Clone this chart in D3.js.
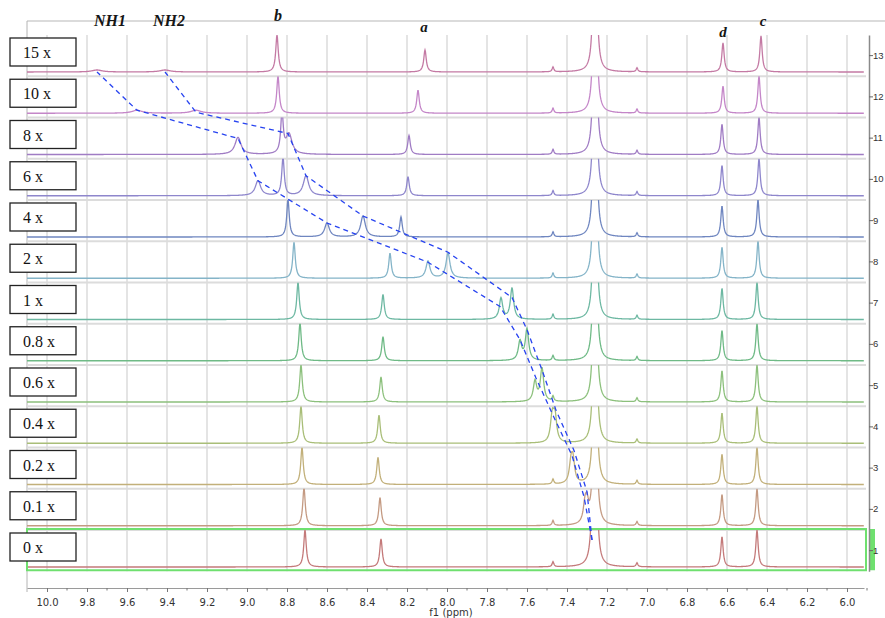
<!DOCTYPE html>
<html>
<head>
<meta charset="utf-8">
<script src="https://cdn.jsdelivr.net/npm/d3@7"></script>
<style>
  body { margin: 0; background: #fff; }
  svg { display: block; }
</style>
</head>
<body>
<div id="chart"></div>
<script>

// titration steps, row 1 (bottom) to row 13 (top)
var rowIds = [1, 2, 3, 4, 5, 6, 7, 8, 9, 10, 11, 12, 13];
var rowLabels = ["0 x", "0.1 x", "0.2 x", "0.4 x", "0.6 x", "0.8 x", "1 x", "2 x", "4 x", "6 x", "8 x", "10 x", "15 x"];
var rowColors = ["#c47a7a", "#c49a82", "#c2b07a", "#a9be78", "#8cc07c", "#6fba86", "#6db8a2", "#84b4c8",
                 "#6f86c0", "#8e86cc", "#a07cc4", "#c486c8", "#c47aa4"];

// proton b
var bPpm    = [8.71, 8.715, 8.725, 8.73, 8.73, 8.735, 8.745, 8.765, 8.795, 8.82, 8.825, 8.845, 8.85];
var bHeight = [37, 38, 37, 37, 37, 38, 37, 36, 37, 38, 40, 37, 37];
// proton a
var aPpm    = [8.33, 8.335, 8.345, 8.34, 8.33, 8.32, 8.32, 8.285, 8.23, 8.195, 8.19, 8.145, 8.11];
var aHeight = [28, 28, 27, 28, 25, 24, 25, 25, 20, 19, 19, 23, 22];
// NH1 / NH2
var nh1Ppm    = [7.275, 7.31, 7.38, 7.475, 7.56, 7.635, 7.73, 8.095, 8.60, 8.945, 9.045, 9.55, 9.75];
var nh1Height = [12, 17, 19, 22, 20, 19, 21, 17, 14, 15, 17, 3, 2];
var nh2Ppm    = [7.27, 7.30, 7.37, 7.46, 7.525, 7.60, 7.675, 7.995, 8.42, 8.705, 8.79, 9.255, 9.41];
var nh2Height = [12, 17, 21, 26, 33, 31, 31, 25, 21, 20, 20, 3, 2];
var nhWidth   = [0.01, 0.01, 0.01, 0.01, 0.01, 0.01, 0.01, 0.012, 0.014, 0.016, 0.018, 0.03, 0.03];
// protons d and c
var dPpm    = [6.625, 6.625, 6.625, 6.625, 6.625, 6.625, 6.625, 6.625, 6.625, 6.625, 6.625, 6.62, 6.62];
var dHeight = [30, 31, 30, 30, 31, 30, 31, 31, 31, 30, 30, 27, 29];
var cPpm    = [6.45, 6.45, 6.45, 6.45, 6.45, 6.45, 6.45, 6.445, 6.445, 6.44, 6.44, 6.44, 6.43];
var cHeight = [37, 37, 37, 37, 37, 37, 37, 37, 37, 37, 37, 37, 36];
// residual CHCl3 and two small lines
var solventPpm = 7.26, solventHeight = 500;
var minorPpm = [7.47, 7.05];
var minorHeight = [5, 4];

// hand-drawn dashed tracks, [ppm, height above baseline] per row
var nh1Track = [[7.275, 27], [7.315, 29], [7.375, 29], [7.47, 28], [7.555, 24], [7.635, 21], [7.735, 13],
                [8.095, 16], [8.60, 14], [8.945, 15], [9.045, 16], [9.55, 3], [9.75, 0]];
var nh2Track = [[7.275, 27], [7.30, 34], [7.365, 34], [7.455, 33], [7.525, 32], [7.60, 31], [7.675, 22],
                [7.995, 26], [8.42, 21], [8.705, 20], [8.795, 21], [9.255, 1], [9.41, 0]];

var topLabels = [
  {text: "NH1", ppm: 9.685, y: 26, size: 16},
  {text: "NH2", ppm: 9.39, y: 26, size: 16},
  {text: "b", ppm: 8.845, y: 21, size: 16},
  {text: "a", ppm: 8.115, y: 32, size: 15},
  {text: "d", ppm: 6.62, y: 37, size: 15},
  {text: "c", ppm: 6.42, y: 26, size: 15}
];

var width = 885, height = 618;
var plotTop = 35, plotBottom = 571.25;
var rowInner = 37;

var svg = d3.select("#chart").append("svg")
    .attr("width", width)
    .attr("height", height);

var x = d3.scaleLinear().domain([10.1, 5.915]).range([27, 864]);
var y = d3.scaleBand().domain(rowIds.slice().reverse()).range([plotTop, plotBottom]);
var h = d3.scaleLinear().domain([0, rowInner]).range([rowInner, 0]);

function baseline(row) { return y(row) + rowInner; }

// frame lines
svg.append("line")
    .attr("x1", 27).attr("x2", 885).attr("y1", 21).attr("y2", 21)
    .style("stroke", "#cfcfcf").style("stroke-width", 1.5);
svg.append("line")
    .attr("x1", 27).attr("x2", 27).attr("y1", 21).attr("y2", 592)
    .style("stroke", "#b4b4b4").style("stroke-width", 1);

// vertical grid
svg.append("g").selectAll("line")
    .data(d3.range(0, 21).map(function (i) { return 10 - i * 0.2; }))
    .enter().append("line")
    .attr("x1", function (d) { return x(d); })
    .attr("x2", function (d) { return x(d); })
    .attr("y1", plotTop).attr("y2", plotBottom)
    .style("stroke", "#dedede").style("stroke-width", 1.6);

// row separators
svg.append("g").selectAll("line")
    .data(rowIds.filter(function (r) { return r > 1; }))
    .enter().append("line")
    .attr("x1", 27).attr("x2", 866)
    .attr("y1", function (r) { return y(r) + y.bandwidth(); })
    .attr("y2", function (r) { return y(r) + y.bandwidth(); })
    .style("stroke", "#dcdcdc").style("stroke-width", 2);

// spectra
function peaksFor(i) {
  var list = [
    {p: bPpm[i], h: bHeight[i], g: 0.0075},
    {p: aPpm[i], h: aHeight[i], g: 0.0075},
    {p: nh1Ppm[i], h: nh1Height[i], g: nhWidth[i]},
    {p: nh2Ppm[i], h: nh2Height[i], g: nhWidth[i]},
    {p: dPpm[i], h: dHeight[i], g: 0.007},
    {p: cPpm[i], h: cHeight[i], g: 0.007},
    {p: solventPpm, h: solventHeight, g: 0.005}
  ];
  minorPpm.forEach(function (p, k) { list.push({p: p, h: minorHeight[k], g: 0.005}); });
  return list;
}

var grid = d3.range(10.1, 5.914, -0.002);
var defs = svg.append("defs");

rowIds.forEach(function (row, i) {
  defs.append("clipPath").attr("id", "clip" + row)
    .append("rect")
    .attr("x", 27).attr("y", y(row))
    .attr("width", 839).attr("height", y.bandwidth());

  var peaks = peaksFor(i);
  var pts = grid.map(function (p) {
    var v = 0;
    peaks.forEach(function (pk) {
      var dd = p - pk.p;
      v += pk.h * pk.g * pk.g / (pk.g * pk.g + dd * dd);
    });
    return [p, v];
  });

  var line = d3.line()
      .x(function (d) { return x(d[0]); })
      .y(function (d) { return y(row) + h(d[1]); });

  svg.append("path")
      .datum(pts)
      .attr("clip-path", "url(#clip" + row + ")")
      .attr("d", line)
      .style("fill", "none")
      .style("stroke", rowColors[i])
      .style("stroke-width", 1.3);
});

// selected row highlight
svg.append("rect")
    .attr("x", 27).attr("y", y(1) - 1)
    .attr("width", 839).attr("height", y.bandwidth())
    .style("fill", "none").style("stroke", "#6fe06f").style("stroke-width", 2);
svg.append("rect")
    .attr("x", 870).attr("y", y(1) - 1)
    .attr("width", 5).attr("height", y.bandwidth())
    .style("fill", "#6fe06f");

// right axis (spectrum number)
var rightAxis = svg.append("g")
    .attr("transform", "translate(869,0)")
    .call(d3.axisRight(y).tickSize(4).tickSizeOuter(0));
rightAxis.select(".domain").style("stroke", "#8a8a8a").style("stroke-width", 1.5);
rightAxis.selectAll(".tick line").style("stroke", "#666");
rightAxis.selectAll("text")
    .attr("x", 4)
    .style("font-family", "Liberation Sans, sans-serif")
    .style("font-size", "9.5px")
    .style("fill", "#333");

// bottom axis
var bottom = svg.append("g").attr("transform", "translate(0,588)");
bottom.call(d3.axisBottom(x)
    .tickValues(d3.range(0, 21).map(function (i) { return 10 - i * 0.2; }))
    .tickFormat(d3.format(".1f"))
    .tickSize(4).tickSizeOuter(0));
bottom.select(".domain").style("stroke", "#9a9a9a");
bottom.selectAll(".tick line").style("stroke", "#777");
bottom.selectAll("text")
    .attr("y", 11)
    .style("font-family", "DejaVu Sans, sans-serif")
    .style("font-size", "10px")
    .style("fill", "#333");
bottom.append("g").selectAll("line")
    .data(d3.range(0, 21).map(function (i) { return 9.9 - i * 0.2; }))
    .enter().append("line")
    .attr("x1", function (d) { return x(d); })
    .attr("x2", function (d) { return x(d); })
    .attr("y1", 0).attr("y2", 2.5)
    .style("stroke", "#777");
svg.append("text")
    .attr("x", 451).attr("y", 616)
    .style("text-anchor", "middle")
    .style("font-family", "DejaVu Sans, sans-serif")
    .style("font-size", "10px")
    .style("fill", "#333")
    .text("f1 (ppm)");

// dashed NH tracks
var trackLine = d3.line()
    .x(function (d) { return x(d[0]); })
    .y(function (d) { return baseline(d[2]) - d[1]; });

[nh1Track, nh2Track].forEach(function (track) {
  var pts = track.map(function (d, i) { return [d[0], d[1], rowIds[i]]; });
  svg.append("path")
      .datum(pts)
      .attr("d", trackLine)
      .style("fill", "none")
      .style("stroke", "#2743f0")
      .style("stroke-width", 1.3)
      .style("stroke-dasharray", "5,4");
});

// row label boxes
var boxes = svg.append("g").selectAll("g")
    .data(rowIds)
    .enter().append("g")
    .attr("transform", function (r) { return "translate(10," + (y(r) + 3) + ")"; });
boxes.append("rect")
    .attr("width", 66).attr("height", 28)
    .style("fill", "#fff").style("stroke", "#222").style("stroke-width", 1.3);
boxes.append("text")
    .attr("x", 13).attr("y", 20)
    .style("font-family", "Liberation Serif, serif")
    .style("font-size", "16px")
    .style("fill", "#111")
    .text(function (r, i) { return rowLabels[i]; });

// peak labels
svg.append("g").selectAll("text")
    .data(topLabels)
    .enter().append("text")
    .attr("x", function (d) { return x(d.ppm); })
    .attr("y", function (d) { return d.y; })
    .style("text-anchor", "middle")
    .style("font-family", "Liberation Serif, serif")
    .style("font-weight", "bold")
    .style("font-style", "italic")
    .style("font-size", function (d) { return d.size + "px"; })
    .style("fill", "#151515")
    .text(function (d) { return d.text; });

</script>
</body>
</html>
